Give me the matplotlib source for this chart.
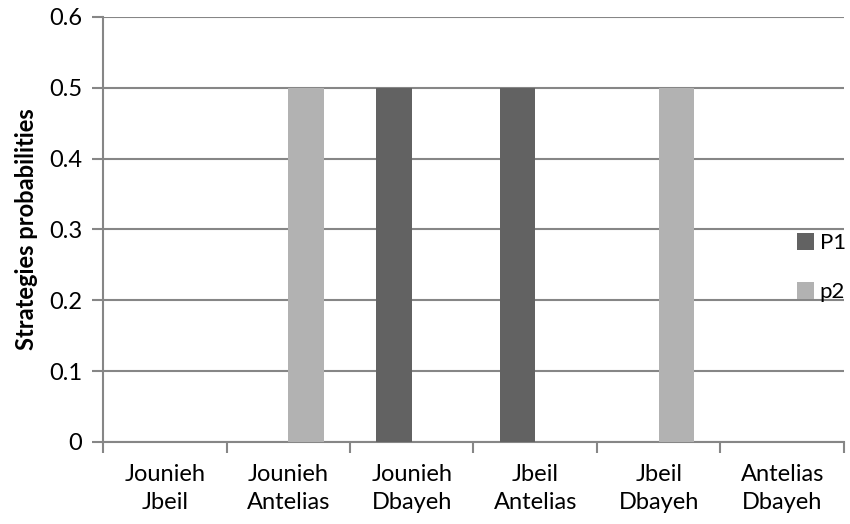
import numpy as np
import matplotlib
matplotlib.use("Agg")
import matplotlib.pyplot as plt

# data
categories = [
    "Jounieh\nJbeil",
    "Jounieh\nAntelias",
    "Jounieh\nDbayeh",
    "Jbeil\nAntelias",
    "Jbeil\nDbayeh",
    "Antelias\nDbayeh",
]
p1_values = [0, 0, 0.5, 0.5, 0, 0]
p2_values = [0, 0.5, 0, 0, 0.5, 0]
series_names = ["P1", "p2"]
yticks = [0, 0.1, 0.2, 0.3, 0.4, 0.5, 0.6]

plt.rcParams["font.family"] = ["Lato", "DejaVu Sans"]

fig = plt.figure(figsize=(8.5, 5.24), dpi=100)
ax = fig.add_axes([0.1212, 0.1565, 0.9929 - 0.1212, 0.9676 - 0.1565])

x = np.arange(len(categories))
width = 1 / 3.5  # excel style 150% gap

grid_col = "#868686"
ax.bar(x - width / 2, p1_values, width, color="#626262", label=series_names[0], zorder=3)
ax.bar(x + width / 2, p2_values, width, color="#b2b2b2", label=series_names[1], zorder=3)

ax.set_xlim(-0.5, len(categories) - 0.5)
ax.set_ylim(0, 0.6)
ax.set_yticks(yticks)
ax.set_yticklabels(["0" if v == 0 else f"{v:.1f}" for v in yticks])
ax.yaxis.grid(True, color=grid_col, linewidth=1.5, zorder=0)

ax.set_xticks(x)
ax.set_xticklabels(categories, fontsize=17, linespacing=1.4)
ax.set_xticks(np.arange(len(categories) + 1) - 0.5, minor=True)
ax.tick_params(axis="x", which="major", length=0, pad=16)
ax.tick_params(axis="x", which="minor", length=8, color=grid_col, width=1.5)
ax.tick_params(axis="y", length=8, color=grid_col, width=1.5, labelsize=17, pad=7)

for side in ["top", "right"]:
    ax.spines[side].set_visible(False)
for side in ["left", "bottom"]:
    ax.spines[side].set_color(grid_col)
    ax.spines[side].set_linewidth(1.5)

ax.set_ylabel("Strategies probabilities", fontsize=17, fontweight="bold", labelpad=8)

leg = ax.legend(
    loc="center left",
    bbox_to_anchor=(0.937, 0.41),
    frameon=False,
    fontsize=16,
    handlelength=0.75,
    handleheight=0.75,
    handletextpad=0.25,
    labelspacing=1.3,
    borderaxespad=0,
    borderpad=0,
)

fig.savefig("out.png", dpi=100)
